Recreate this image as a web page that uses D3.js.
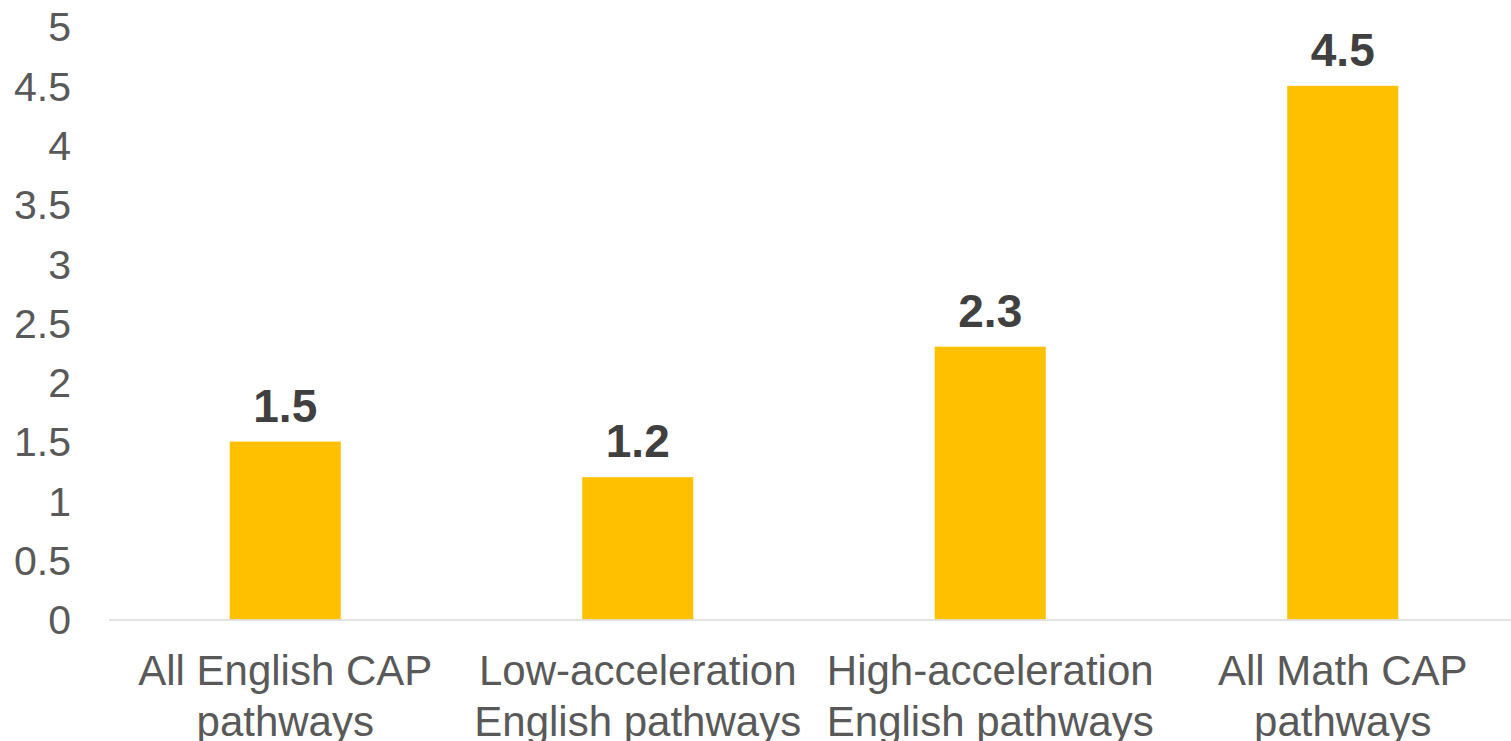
<!DOCTYPE html>
<html>
<head>
<meta charset="utf-8">
<script src="https://d3js.org/d3.v7.min.js"></script>
<style>
html,body{margin:0;padding:0;background:#fff;overflow:hidden;}
svg{display:block;}
</style>
</head>
<body>
<svg id="chart" width="1511" height="741"></svg>
<script>
const categories = [
  ["All English CAP", "pathways"],
  ["Low-acceleration", "English pathways"],
  ["High-acceleration", "English pathways"],
  ["All Math CAP", "pathways"]
];
const values = [1.5, 1.2, 2.3, 4.5];
const valueLabels = ["1.5", "1.2", "2.3", "4.5"];
const yTicks = [0, 0.5, 1, 1.5, 2, 2.5, 3, 3.5, 4, 4.5, 5];
const yTickLabels = ["0", "0.5", "1", "1.5", "2", "2.5", "3", "3.5", "4", "4.5", "5"];

const svg = d3.select("#chart");
const font = "'Liberation Sans', Arial, Helvetica, sans-serif";

const x = d3.scaleBand()
  .domain(d3.range(values.length))
  .range([109, 1519])
  .paddingInner(0.685)
  .paddingOuter(0.3425);

const y = d3.scaleLinear().domain([0, 5]).range([619.5, 26.5]);

// y axis labels
const yAxis = d3.axisLeft(y).tickValues(yTicks)
  .tickFormat((d, i) => yTickLabels[i]).tickSize(0).tickPadding(0);
const gy = svg.append("g").attr("transform", "translate(71,0)").call(yAxis);
gy.select(".domain").remove();
gy.selectAll("text")
  .attr("font-family", font)
  .attr("font-size", 41)
  .attr("fill", "#595959")
  .attr("dy", "0.35em");

// bars
svg.append("g").selectAll("rect").data(values).join("rect")
  .attr("x", (d, i) => x(i))
  .attr("width", x.bandwidth())
  .attr("y", d => y(d))
  .attr("height", d => y(0) - y(d))
  .attr("fill", "#FFC000");

// baseline
svg.append("line")
  .attr("x1", 109).attr("x2", 1511)
  .attr("y1", y(0) + 0.5).attr("y2", y(0) + 0.5)
  .attr("stroke", "#d9d9d9").attr("stroke-width", 1.5);

// data labels
svg.append("g").selectAll("text").data(values).join("text")
  .attr("x", (d, i) => x(i) + x.bandwidth() / 2)
  .attr("y", d => y(d) - 20)
  .attr("text-anchor", "middle")
  .attr("font-family", font)
  .attr("font-size", 46)
  .attr("font-weight", "bold")
  .attr("fill", "#404040")
  .text((d, i) => valueLabels[i]);

// category labels
const cat = svg.append("g").selectAll("text").data(categories).join("text")
  .attr("text-anchor", "middle")
  .attr("font-family", font)
  .attr("font-size", 42)
  .attr("fill", "#595959");
cat.each(function(d, i) {
  const t = d3.select(this);
  const cx = x(i) + x.bandwidth() / 2;
  d.forEach((line, j) => {
    t.append("tspan").attr("x", cx).attr("y", 685 + j * 50.5).text(line);
  });
});
</script>
</body>
</html>
